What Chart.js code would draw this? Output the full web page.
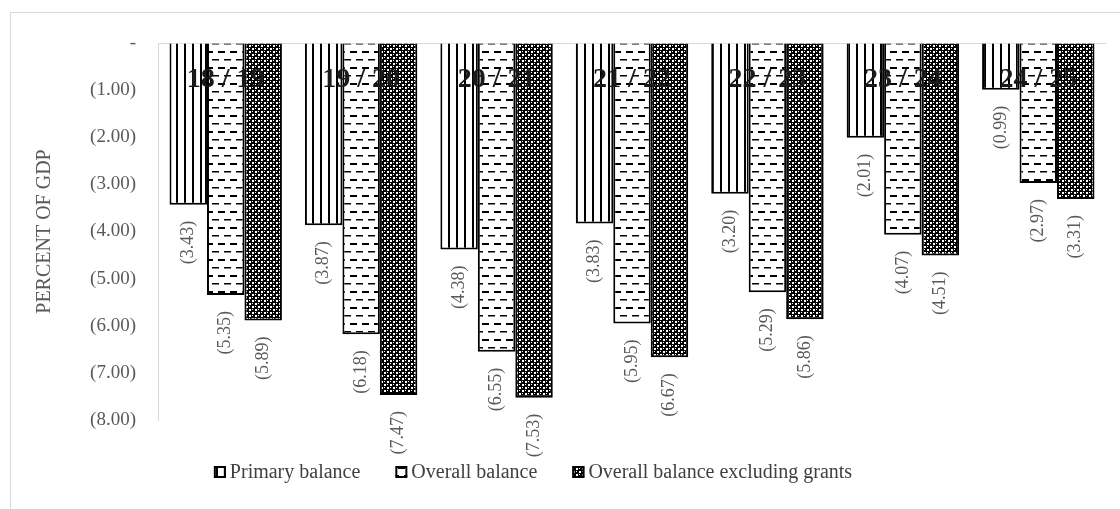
<!DOCTYPE html>
<html>
<head>
<meta charset="utf-8">
<script src="https://cdn.jsdelivr.net/npm/chart.js@4.4.0/dist/chart.umd.min.js"></script>
<style>
html,body{margin:0;padding:0;background:#fff;}
#wrap{width:1120px;height:509px;position:relative;}
</style>
</head>
<body>
<div id="wrap"><canvas id="c" width="1120" height="509"></canvas></div>
<script>
const categories = ['18 / 19', '19 / 20', '20 / 21', '21 / 22', '22 / 23', '23 / 24', '24 / 25'];
const seriesNames = ['Primary balance', 'Overall balance', 'Overall balance excluding grants'];
const primaryBalance = [-3.43, -3.87, -4.38, -3.83, -3.20, -2.01, -0.99];
const overallBalance = [-5.35, -6.18, -6.55, -5.95, -5.29, -4.07, -2.97];
const overallExGrants = [-5.89, -7.47, -7.53, -6.67, -5.86, -4.51, -3.31];
const yTicks = [0, -1, -2, -3, -4, -5, -6, -7, -8];

function makePattern(kind) {
  const t = document.createElement('canvas');
  const g = t.getContext('2d');
  if (kind === 'vstripe') {
    t.width = 8; t.height = 8;
    g.fillStyle = '#fff'; g.fillRect(0, 0, 8, 8);
    g.fillStyle = '#000'; g.fillRect(0, 0, 2, 8);
  } else if (kind === 'dash') {
    t.width = 12; t.height = 16;
    g.fillStyle = '#fff'; g.fillRect(0, 0, 12, 16);
    g.fillStyle = '#000';
    g.fillRect(2, 3, 7, 2);
    g.fillRect(8, 11, 7, 1.5); g.fillRect(-4, 11, 7, 1.5);
  } else {
    t.width = 6; t.height = 6;
    g.fillStyle = '#000'; g.fillRect(0, 0, 6, 6);
    g.fillStyle = '#fff';
    g.fillRect(0, 0, 2, 2);
    g.fillRect(3, 3, 2, 2);
    g.fillRect(3, 0, 1, 1);
    g.fillRect(0, 3, 1, 1);
  }
  return g.createPattern(t, 'repeat');
}
const patterns = [makePattern('vstripe'), makePattern('dash'), makePattern('check')];

const fmt = v => v === 0 ? '-' : '(' + Math.abs(v).toFixed(2) + ')';

const serif = '"Liberation Serif", "DejaVu Serif", serif';

const decorPlugin = {
  id: 'decor',
  beforeDraw(chart) {
    const ctx = chart.ctx;
    ctx.save();
    ctx.strokeStyle = '#d9d9d9';
    ctx.lineWidth = 1;
    ctx.strokeRect(10.5, 12.5, 1300, 700);
    ctx.restore();
  },
  afterDatasetsDraw(chart) {
    const ctx = chart.ctx;
    const x = chart.scales.x, y = chart.scales.y;
    ctx.save();
    // data labels
    ctx.font = '18px ' + serif;
    ctx.fillStyle = '#595959';
    ctx.textAlign = 'right';
    ctx.textBaseline = 'middle';
    chart.data.datasets.forEach((ds, di) => {
      chart.getDatasetMeta(di).data.forEach((bar, i) => {
        ctx.save();
        ctx.translate(bar.x, bar.y + 16);
        ctx.rotate(-Math.PI / 2);
        ctx.fillText(fmt(ds.data[i]), 0, 0);
        ctx.restore();
      });
    });
    // category labels
    ctx.font = 'bold 28px ' + serif;
    ctx.fillStyle = '#1a1a1a';
    ctx.textAlign = 'center';
    ctx.textBaseline = 'middle';
    const y0 = y.getPixelForValue(0);
    categories.forEach((c, i) => {
      ctx.fillText(c, x.getPixelForValue(i), y0 + 37);
    });
    ctx.restore();
  },
  afterDraw(chart) {
    const ctx = chart.ctx;
    ctx.save();
    ctx.font = '20px ' + serif;
    ctx.textBaseline = 'middle';
    ctx.textAlign = 'left';
    const box = 12, gapText = 4, gapItem = 35;
    const widths = seriesNames.map(n => ctx.measureText(n).width);
    const total = widths.reduce((a, w) => a + box + gapText + w, 0) + gapItem * (seriesNames.length - 1);
    let cx = 533 - total / 2;
    const ly = 472;
    seriesNames.forEach((n, i) => {
      ctx.fillStyle = patterns[i];
      ctx.fillRect(cx, ly - box / 2, box, box);
      ctx.strokeStyle = '#000';
      ctx.lineWidth = 2;
      ctx.strokeRect(cx + 1, ly - box / 2 + 1, box - 2, box - 2);
      ctx.fillStyle = '#404040';
      ctx.fillText(n, cx + box + gapText, ly + 1);
      cx += box + gapText + widths[i] + gapItem;
    });
    ctx.restore();
  }
};

new Chart(document.getElementById('c'), {
  type: 'bar',
  data: {
    labels: categories,
    datasets: [
      { label: seriesNames[0], data: primaryBalance, backgroundColor: patterns[0] },
      { label: seriesNames[1], data: overallBalance, backgroundColor: patterns[1] },
      { label: seriesNames[2], data: overallExGrants, backgroundColor: patterns[2] }
    ].map(d => Object.assign(d, { borderColor: '#000', borderWidth: 2, borderSkipped: 'start', barPercentage: 1, categoryPercentage: 0.83 }))
  },
  options: {
    responsive: false,
    animation: false,
    layout: { padding: { left: 0, top: 43, right: 14, bottom: 89 } },
    plugins: { legend: { display: false }, tooltip: { enabled: false } },
    scales: {
      x: { display: false },
      y: {
        min: -8, max: 0,
        afterFit(s) { s.width = 158; },
        afterBuildTicks(s) { s.ticks = yTicks.map(v => ({ value: v })); },
        ticks: {
          callback: v => fmt(v),
          font: { family: serif, size: 19 },
          color: '#595959',
          padding: 22
        },
        grid: {
          drawTicks: false,
          color: ctx => (ctx.tick && ctx.tick.value === 0) ? '#d9d9d9' : 'rgba(0,0,0,0)'
        },
        border: { color: '#d9d9d9', width: 1 },
        title: {
          display: true,
          text: 'PERCENT OF GDP',
          font: { family: serif, size: 20 },
          color: '#595959',
          padding: { top: 33, bottom: 0 }
        }
      }
    }
  },
  plugins: [decorPlugin]
});
</script>
</body>
</html>
